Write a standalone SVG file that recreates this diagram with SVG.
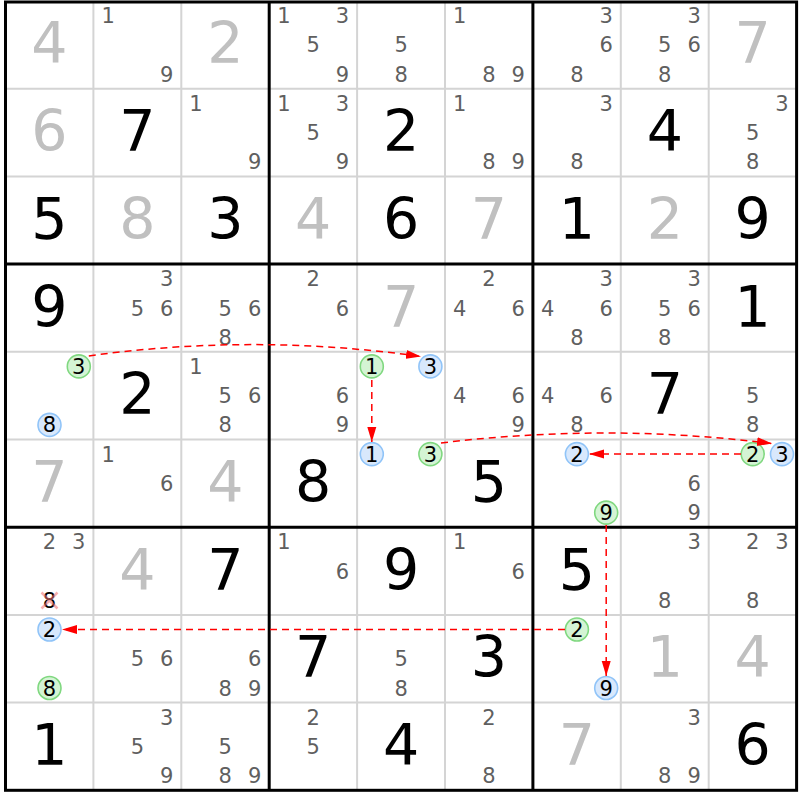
<svg xmlns="http://www.w3.org/2000/svg" width="800" height="800" viewBox="0 0 800 800">
<style>
text{font-family:"DejaVu Sans",Verdana,sans-serif;text-anchor:middle}
.b{font-size:57px;fill:#000}
.s{font-size:57px;fill:#c0c0c0}
.c{font-size:21px;fill:#5f5f5f}
.d{font-size:21px;fill:#000}
.thin{stroke:#d4d4d4;stroke-width:2}
.thick{stroke:#000;stroke-width:3}
.gc{fill:#d4f4d4;stroke:#80d880;stroke-width:1.6}
.bc{fill:#d8e8fc;stroke:#90c4f8;stroke-width:1.6}
.ar{fill:none;stroke:#ff0000;stroke-width:1.5;stroke-dasharray:7 5;marker-end:url(#ah)}
</style>
<defs>
<marker id="ah" markerUnits="userSpaceOnUse" markerWidth="16" markerHeight="10" refX="15" refY="5" orient="auto" viewBox="0 0 16 10"><path d="M0,0.5 L15,5 L0,9.5 z" fill="#ff0000"/></marker>
</defs>
<rect x="0" y="0" width="800" height="800" fill="#fff"/>
<g id="grid">
<path class="thin" d="M93.4,2V790.3M181.3,2V790.3M357.1,2V790.3M445,2V790.3M620.8,2V790.3M708.7,2V790.3M5.5,88.7H796.6M5.5,176.4H796.6M5.5,351.8H796.6M5.5,439.5H796.6M5.5,614.9H796.6M5.5,702.6H796.6"/>
<path class="thick" d="M269.2,2V790.3M532.9,2V790.3M5.5,264.1H796.6M5.5,527.2H796.6"/>
<rect class="thick" x="5.5" y="2" width="791.1" height="788.3" fill="none"/>
</g>
<g id="r1c1"><text class="s" x="49.5" y="63.4">4</text></g>
<g id="r1c2"><text class="c" x="108.1" y="23.1">1</text><text class="c" x="166.7" y="81.6">9</text></g>
<g id="r1c3"><text class="s" x="225.3" y="63.4">2</text></g>
<g id="r1c4"><text class="c" x="283.9" y="23.1">1</text><text class="c" x="342.5" y="23.1">3</text><text class="c" x="313.2" y="52.4">5</text><text class="c" x="342.5" y="81.6">9</text></g>
<g id="r1c5"><text class="c" x="401.1" y="52.4">5</text><text class="c" x="401.1" y="81.6">8</text></g>
<g id="r1c6"><text class="c" x="459.7" y="23.1">1</text><text class="c" x="489" y="81.6">8</text><text class="c" x="518.3" y="81.6">9</text></g>
<g id="r1c7"><text class="c" x="606.2" y="23.1">3</text><text class="c" x="606.2" y="52.4">6</text><text class="c" x="576.9" y="81.6">8</text></g>
<g id="r1c8"><text class="c" x="694.1" y="23.1">3</text><text class="c" x="664.8" y="52.4">5</text><text class="c" x="694.1" y="52.4">6</text><text class="c" x="664.8" y="81.6">8</text></g>
<g id="r1c9"><text class="s" x="752.7" y="63.4">7</text></g>
<g id="r2c1"><text class="s" x="49.5" y="151.1">6</text></g>
<g id="r2c2"><text class="b" x="137.4" y="151.1">7</text></g>
<g id="r2c3"><text class="c" x="196" y="110.8">1</text><text class="c" x="254.6" y="169.3">9</text></g>
<g id="r2c4"><text class="c" x="283.9" y="110.8">1</text><text class="c" x="342.5" y="110.8">3</text><text class="c" x="313.2" y="140.1">5</text><text class="c" x="342.5" y="169.3">9</text></g>
<g id="r2c5"><text class="b" x="401.1" y="151.1">2</text></g>
<g id="r2c6"><text class="c" x="459.7" y="110.8">1</text><text class="c" x="489" y="169.3">8</text><text class="c" x="518.3" y="169.3">9</text></g>
<g id="r2c7"><text class="c" x="606.2" y="110.8">3</text><text class="c" x="576.9" y="169.3">8</text></g>
<g id="r2c8"><text class="b" x="664.8" y="151.1">4</text></g>
<g id="r2c9"><text class="c" x="782" y="110.8">3</text><text class="c" x="752.7" y="140.1">5</text><text class="c" x="752.7" y="169.3">8</text></g>
<g id="r3c1"><text class="b" x="49.5" y="238.8">5</text></g>
<g id="r3c2"><text class="s" x="137.4" y="238.8">8</text></g>
<g id="r3c3"><text class="b" x="225.3" y="238.8">3</text></g>
<g id="r3c4"><text class="s" x="313.2" y="238.8">4</text></g>
<g id="r3c5"><text class="b" x="401.1" y="238.8">6</text></g>
<g id="r3c6"><text class="s" x="489" y="238.8">7</text></g>
<g id="r3c7"><text class="b" x="576.9" y="238.8">1</text></g>
<g id="r3c8"><text class="s" x="664.8" y="238.8">2</text></g>
<g id="r3c9"><text class="b" x="752.7" y="238.8">9</text></g>
<g id="r4c1"><text class="b" x="49.5" y="326.5">9</text></g>
<g id="r4c2"><text class="c" x="166.7" y="286.2">3</text><text class="c" x="137.4" y="315.5">5</text><text class="c" x="166.7" y="315.5">6</text></g>
<g id="r4c3"><text class="c" x="225.3" y="315.5">5</text><text class="c" x="254.6" y="315.5">6</text><text class="c" x="225.3" y="344.7">8</text></g>
<g id="r4c4"><text class="c" x="313.2" y="286.2">2</text><text class="c" x="342.5" y="315.5">6</text></g>
<g id="r4c5"><text class="s" x="401.1" y="326.5">7</text></g>
<g id="r4c6"><text class="c" x="489" y="286.2">2</text><text class="c" x="459.7" y="315.5">4</text><text class="c" x="518.3" y="315.5">6</text></g>
<g id="r4c7"><text class="c" x="606.2" y="286.2">3</text><text class="c" x="547.6" y="315.5">4</text><text class="c" x="606.2" y="315.5">6</text><text class="c" x="576.9" y="344.7">8</text></g>
<g id="r4c8"><text class="c" x="694.1" y="286.2">3</text><text class="c" x="664.8" y="315.5">5</text><text class="c" x="694.1" y="315.5">6</text><text class="c" x="664.8" y="344.7">8</text></g>
<g id="r4c9"><text class="b" x="752.7" y="326.5">1</text></g>
<g id="r5c1"><circle class="gc" cx="78.8" cy="366.4" r="11.5"/><text class="d" x="78.8" y="373.9">3</text><circle class="bc" cx="49.5" cy="424.9" r="11.5"/><text class="d" x="49.5" y="432.4">8</text></g>
<g id="r5c2"><text class="b" x="137.4" y="414.2">2</text></g>
<g id="r5c3"><text class="c" x="196" y="373.9">1</text><text class="c" x="225.3" y="403.2">5</text><text class="c" x="254.6" y="403.2">6</text><text class="c" x="225.3" y="432.4">8</text></g>
<g id="r5c4"><text class="c" x="342.5" y="403.2">6</text><text class="c" x="342.5" y="432.4">9</text></g>
<g id="r5c5"><circle class="gc" cx="371.8" cy="366.4" r="11.5"/><text class="d" x="371.8" y="373.9">1</text><circle class="bc" cx="430.4" cy="366.4" r="11.5"/><text class="d" x="430.4" y="373.9">3</text></g>
<g id="r5c6"><text class="c" x="459.7" y="403.2">4</text><text class="c" x="518.3" y="403.2">6</text><text class="c" x="518.3" y="432.4">9</text></g>
<g id="r5c7"><text class="c" x="547.6" y="403.2">4</text><text class="c" x="606.2" y="403.2">6</text><text class="c" x="576.9" y="432.4">8</text></g>
<g id="r5c8"><text class="b" x="664.8" y="414.2">7</text></g>
<g id="r5c9"><text class="c" x="752.7" y="403.2">5</text><text class="c" x="752.7" y="432.4">8</text></g>
<g id="r6c1"><text class="s" x="49.5" y="501.9">7</text></g>
<g id="r6c2"><text class="c" x="108.1" y="461.6">1</text><text class="c" x="166.7" y="490.9">6</text></g>
<g id="r6c3"><text class="s" x="225.3" y="501.9">4</text></g>
<g id="r6c4"><text class="b" x="313.2" y="501.9">8</text></g>
<g id="r6c5"><circle class="bc" cx="371.8" cy="454.1" r="11.5"/><text class="d" x="371.8" y="461.6">1</text><circle class="gc" cx="430.4" cy="454.1" r="11.5"/><text class="d" x="430.4" y="461.6">3</text></g>
<g id="r6c6"><text class="b" x="489" y="501.9">5</text></g>
<g id="r6c7"><circle class="bc" cx="576.9" cy="454.1" r="11.5"/><text class="d" x="576.9" y="461.6">2</text><circle class="gc" cx="606.2" cy="512.6" r="11.5"/><text class="d" x="606.2" y="520.1">9</text></g>
<g id="r6c8"><text class="c" x="694.1" y="490.9">6</text><text class="c" x="694.1" y="520.1">9</text></g>
<g id="r6c9"><circle class="gc" cx="752.7" cy="454.1" r="11.5"/><text class="d" x="752.7" y="461.6">2</text><circle class="bc" cx="782" cy="454.1" r="11.5"/><text class="d" x="782" y="461.6">3</text></g>
<g id="r7c1"><text class="c" x="49.5" y="549.3">2</text><text class="c" x="78.8" y="549.3">3</text><text class="d" x="49.5" y="607.8">8</text><path d="M41.5,592.5 L57.5,608.5 M57.5,592.5 L41.5,608.5" stroke="#f07070" stroke-opacity="0.55" stroke-width="2.5"/></g>
<g id="r7c2"><text class="s" x="137.4" y="589.6">4</text></g>
<g id="r7c3"><text class="b" x="225.3" y="589.6">7</text></g>
<g id="r7c4"><text class="c" x="283.9" y="549.3">1</text><text class="c" x="342.5" y="578.6">6</text></g>
<g id="r7c5"><text class="b" x="401.1" y="589.6">9</text></g>
<g id="r7c6"><text class="c" x="459.7" y="549.3">1</text><text class="c" x="518.3" y="578.6">6</text></g>
<g id="r7c7"><text class="b" x="576.9" y="589.6">5</text></g>
<g id="r7c8"><text class="c" x="694.1" y="549.3">3</text><text class="c" x="664.8" y="607.8">8</text></g>
<g id="r7c9"><text class="c" x="752.7" y="549.3">2</text><text class="c" x="782" y="549.3">3</text><text class="c" x="752.7" y="607.8">8</text></g>
<g id="r8c1"><circle class="bc" cx="49.5" cy="629.5" r="11.5"/><text class="d" x="49.5" y="637">2</text><circle class="gc" cx="49.5" cy="688" r="11.5"/><text class="d" x="49.5" y="695.5">8</text></g>
<g id="r8c2"><text class="c" x="137.4" y="666.3">5</text><text class="c" x="166.7" y="666.3">6</text></g>
<g id="r8c3"><text class="c" x="254.6" y="666.3">6</text><text class="c" x="225.3" y="695.5">8</text><text class="c" x="254.6" y="695.5">9</text></g>
<g id="r8c4"><text class="b" x="313.2" y="677.3">7</text></g>
<g id="r8c5"><text class="c" x="401.1" y="666.3">5</text><text class="c" x="401.1" y="695.5">8</text></g>
<g id="r8c6"><text class="b" x="489" y="677.3">3</text></g>
<g id="r8c7"><circle class="gc" cx="576.9" cy="629.5" r="11.5"/><text class="d" x="576.9" y="637">2</text><circle class="bc" cx="606.2" cy="688" r="11.5"/><text class="d" x="606.2" y="695.5">9</text></g>
<g id="r8c8"><text class="s" x="664.8" y="677.3">1</text></g>
<g id="r8c9"><text class="s" x="752.7" y="677.3">4</text></g>
<g id="r9c1"><text class="b" x="49.5" y="765">1</text></g>
<g id="r9c2"><text class="c" x="166.7" y="724.7">3</text><text class="c" x="137.4" y="754">5</text><text class="c" x="166.7" y="783.2">9</text></g>
<g id="r9c3"><text class="c" x="225.3" y="754">5</text><text class="c" x="225.3" y="783.2">8</text><text class="c" x="254.6" y="783.2">9</text></g>
<g id="r9c4"><text class="c" x="313.2" y="724.7">2</text><text class="c" x="313.2" y="754">5</text></g>
<g id="r9c5"><text class="b" x="401.1" y="765">4</text></g>
<g id="r9c6"><text class="c" x="489" y="724.7">2</text><text class="c" x="489" y="783.2">8</text></g>
<g id="r9c7"><text class="s" x="576.9" y="765">7</text></g>
<g id="r9c8"><text class="c" x="694.1" y="724.7">3</text><text class="c" x="664.8" y="783.2">8</text><text class="c" x="694.1" y="783.2">9</text></g>
<g id="r9c9"><text class="b" x="752.7" y="765">6</text></g>
<g id="connectors">
<path class="ar" d="M88.8,355.9 Q254,333 421,356.5"/>
<path class="ar" d="M371.8,380 L371.8,442"/>
<path class="ar" d="M441,443 Q606.5,422.8 772,443.5"/>
<path class="ar" d="M741,454.1 L589,454.1"/>
<path class="ar" d="M606.2,525 L606.2,676"/>
<path class="ar" d="M565,629.5 L62,629.5"/>
</g>
</svg>
